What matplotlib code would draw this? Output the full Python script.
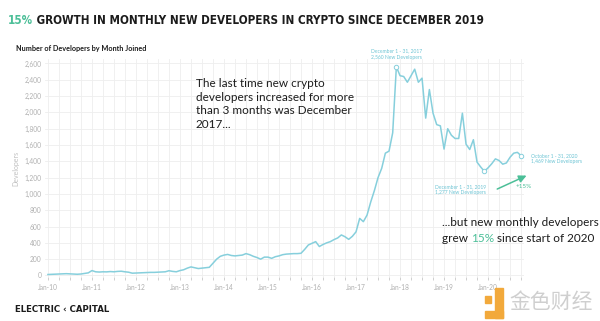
import matplotlib
matplotlib.use("Agg")
import matplotlib.pyplot as plt
from matplotlib import font_manager
from matplotlib.ticker import FuncFormatter, FixedLocator
import numpy as np

# ---- data: new developers joining per month, Jan 2010 .. Oct 2020 ----
y2010 = [12, 14, 15, 18, 20, 22, 20, 18, 15, 18, 25, 32]
y2011 = [60, 45, 42, 45, 44, 48, 45, 50, 52, 45, 40, 28]
y2012 = [30, 32, 35, 35, 38, 38, 40, 42, 45, 58, 50, 45]
y2013 = [60, 70, 90, 105, 95, 85, 90, 95, 100, 150, 200, 235]
y2014 = [250, 258, 245, 240, 245, 250, 268, 255, 235, 220, 200, 225]
y2015 = [225, 210, 230, 240, 255, 262, 265, 268, 268, 272, 320, 374]
y2016 = [395, 415, 355, 380, 400, 415, 440, 460, 497, 475, 443, 480]
y2017 = [535, 700, 660, 740, 900, 1040, 1200, 1314, 1500, 1525, 1750, 2560]
y2018 = [2450, 2440, 2370, 2450, 2530, 2370, 2420, 1930, 2280, 1990, 1850, 1835]
y2019 = [1550, 1800, 1720, 1680, 1680, 1990, 1610, 1545, 1665, 1390, 1330, 1277]
y2020 = [1320, 1370, 1430, 1410, 1365, 1380, 1450, 1500, 1510, 1469]

developers = y2010 + y2011 + y2012 + y2013 + y2014 + y2015 + y2016 + y2017 + y2018 + y2019 + y2020
months = np.arange(len(developers))

year_labels = ["Jan-10", "Jan-11", "Jan-12", "Jan-13", "Jan-14", "Jan-15",
               "Jan-16", "Jan-17", "Jan-18", "Jan-19", "Jan-20"]
y_ticks = [0, 200, 400, 600, 800, 1000, 1200, 1400, 1600, 1800, 2000, 2200, 2400, 2600]

peak_idx = 95      # December 2017
trough_idx = 119   # December 2019
last_idx = 129     # October 2020

LINE = "#86cfdc"
NOTE = "#6cc4d4"
GREEN = "#4cbf98"
GRID = "#eeeeee"
TICK = "#b0b0b0"
DARK = "#1c1c1c"

body_family = ["Lato", "DejaVu Sans"]


def condensed_title_font():
    """Prefer a narrow bold face for the headline if one is installed."""
    best = None
    for f in font_manager.fontManager.ttflist:
        name = f.name.lower()
        fname = f.fname.lower()
        narrow = ("condensed" in name or "narrow" in name or "condensed" in fname
                  or "narrow" in fname or str(f.stretch) in ("condensed", "semi-condensed",
                                                               "extra-condensed"))
        if not narrow:
            continue
        w = f.weight if isinstance(f.weight, int) else {"bold": 700, "semibold": 600,
                                                         "demibold": 600, "heavy": 800,
                                                         "black": 900}.get(str(f.weight), 400)
        score = abs(w - 700) + (0 if "extra" not in fname else 50)
        if best is None or score < best[0]:
            best = (score, f.fname)
    if best:
        return font_manager.FontProperties(fname=best[1])
    return font_manager.FontProperties(family="DejaVu Sans", weight="bold")


title_fp = condensed_title_font()

W, H = 600.0, 321.0
fig = plt.figure(figsize=(6.0, 3.21), dpi=100)
fig.patch.set_facecolor("white")


def px(x, y):
    return x / W, 1 - y / H


def width_of(t):
    fig.canvas.draw()
    return t.get_window_extent().width


def fit_width(t, target):
    for _ in range(3):
        w = width_of(t)
        t.set_fontsize(t.get_fontsize() * target / w)
    return t.get_fontsize()


ax_left, ax_right = 45.0, 524.0
ax_top, ax_bottom = 59.4, 277.1
ax = fig.add_axes([ax_left / W, 1 - ax_bottom / H,
                   (ax_right - ax_left) / W, (ax_bottom - ax_top) / H])
ax.set_xlim(-0.8, 129.8)
ax.set_ylim(-20, 2650)

for s in ax.spines.values():
    s.set_visible(False)

# grid
ax.yaxis.set_major_locator(FixedLocator(y_ticks))
ax.xaxis.set_major_locator(FixedLocator(np.arange(0, 121, 12)))
ax.xaxis.set_minor_locator(FixedLocator([m for m in range(0, 130, 3) if m % 12]))
ax.grid(True, which="both", color=GRID, linewidth=0.6, zorder=0)
ax.set_axisbelow(True)

ax.yaxis.set_major_formatter(FuncFormatter(lambda v, p: f"{int(v):,}"))
ax.set_xticklabels(year_labels)
ax.tick_params(axis="y", length=0, labelsize=4.8, labelcolor=TICK, pad=2.5)
ax.tick_params(axis="x", which="both", length=2.2, width=0.6, color="#c8c8c8",
               labelsize=4.8, labelcolor=TICK, pad=3)
for lab in ax.get_xticklabels() + ax.get_yticklabels():
    lab.set_family(body_family)

ax.set_ylabel("Developers", fontsize=5, color="#c0c0c0", labelpad=4,
              family=body_family)

# main series
ax.plot(months, developers, color=LINE, linewidth=1.1, zorder=3, solid_joinstyle="round")
for i in (peak_idx, trough_idx, last_idx):
    ax.plot(months[i], developers[i], marker="o", markersize=3.2, markerfacecolor="white",
            markeredgecolor=LINE, markeredgewidth=0.7, zorder=4)

# point notes
note_kw = dict(textcoords="offset points", fontsize=3.6, color=NOTE,
               family=body_family, linespacing=1.35, annotation_clip=False)
ax.annotate(f"December 1 - 31, 2017\n{developers[peak_idx]:,} New Developers",
            xy=(months[peak_idx], developers[peak_idx]), xytext=(-18, 5),
            ha="left", va="bottom", **note_kw)
ax.annotate(f"December 1 - 31, 2019\n{developers[trough_idx]:,} New Developers",
            xy=(months[trough_idx], developers[trough_idx]), xytext=(-17, -9),
            ha="center", va="top", **note_kw)
ax.annotate(f"October 1 - 31, 2020\n{developers[last_idx]:,} New Developers",
            xy=(months[last_idx], developers[last_idx]), xytext=(7, -2),
            ha="left", va="center", **note_kw)

# growth arrow
growth = round((developers[last_idx] / developers[trough_idx] - 1) * 100)
ax.annotate("", xy=(130.5, 1225), xytext=(122.5, 1060),
            arrowprops=dict(arrowstyle="-|>,head_length=0.45,head_width=0.22",
                            color=GREEN, lw=1.1, shrinkA=0, shrinkB=0),
            annotation_clip=False)
ax.text(127.5, 1090, f"+{growth}%", fontsize=4.6, color=GREEN, ha="left", va="center",
        family=body_family)

# title: green percentage followed by the headline, fitted to the page width
title_y = 21
headline = " GROWTH IN MONTHLY NEW DEVELOPERS IN CRYPTO SINCE DECEMBER 2019"
t_pct = fig.text(*px(8, title_y), "15%", fontproperties=title_fp, fontsize=14,
                 color=GREEN, va="center", ha="left")
t_rest = fig.text(*px(40, title_y), headline, fontproperties=title_fp, fontsize=14,
                  color=DARK, va="center", ha="left")
for _ in range(3):
    fig.canvas.draw()
    b0 = t_pct.get_window_extent()
    t_rest.set_x(b0.x1 / W)
    fig.canvas.draw()
    total = t_rest.get_window_extent().x1 - b0.x0
    size = min(t_pct.get_fontsize() * 477 / total, 17)
    t_pct.set_fontsize(size)
    t_rest.set_fontsize(size)
fig.canvas.draw()
t_rest.set_x(t_pct.get_window_extent().x1 / W)

sub = fig.text(*px(16, 48), "Number of Developers by Month Joined", fontsize=6,
               fontweight="bold", color=DARK, family=body_family, va="center", ha="left")
fit_width(sub, 131)

# commentary
c1 = fig.text(*px(196, 78),
              "The last time new crypto\ndevelopers increased for more\nthan 3 months was December\n2017...",
              fontsize=9, color=DARK, family=body_family, va="top", ha="left",
              linespacing=1.3)
probe = fig.text(0.3, 0.5, "developers increased for more", fontsize=9, color="none",
                 family=body_family)
csize = fit_width(probe, 157)
probe.remove()
c1.set_fontsize(csize)

fig.text(*px(442, 222), "...but new monthly developers", fontsize=csize, color=DARK,
         family=body_family, va="center", ha="left")
g1 = fig.text(*px(442, 239), "grew ", fontsize=csize, color=DARK,
              family=body_family, va="center", ha="left")
fig.canvas.draw()
b1 = g1.get_window_extent()
g2 = fig.text(b1.x1 / W, 1 - 239 / H, "15%", fontsize=csize, color=GREEN,
              family=body_family, va="center", ha="left")
fig.canvas.draw()
b2 = g2.get_window_extent()
fig.text(b2.x1 / W, 1 - 239 / H, " since start of 2020", fontsize=csize, color=DARK,
         family=body_family, va="center", ha="left")

# footer
foot = fig.text(*px(15, 309), "ELECTRIC \u2039 CAPITAL", fontsize=6.5, fontweight="bold",
                color=DARK, family=["DejaVu Sans"], va="center", ha="left")
fit_width(foot, 97)

# source mark, lower right
orange = "#f2a93b"
for (x0, y0, w, h) in [(485, 296, 6, 7), (495, 288, 8, 30), (485, 311, 18, 7)]:
    fig.patches.append(plt.Rectangle(px(x0, y0 + h), w / W, h / H,
                                     transform=fig.transFigure, color=orange, zorder=1))
fig.text(*px(509, 302), "金色财经", fontsize=15, color="#cfcfcf",
         family=["Noto Sans CJK SC", "DejaVu Sans"], va="center", ha="left")

fig.savefig("out.png", dpi=100, facecolor="white")
